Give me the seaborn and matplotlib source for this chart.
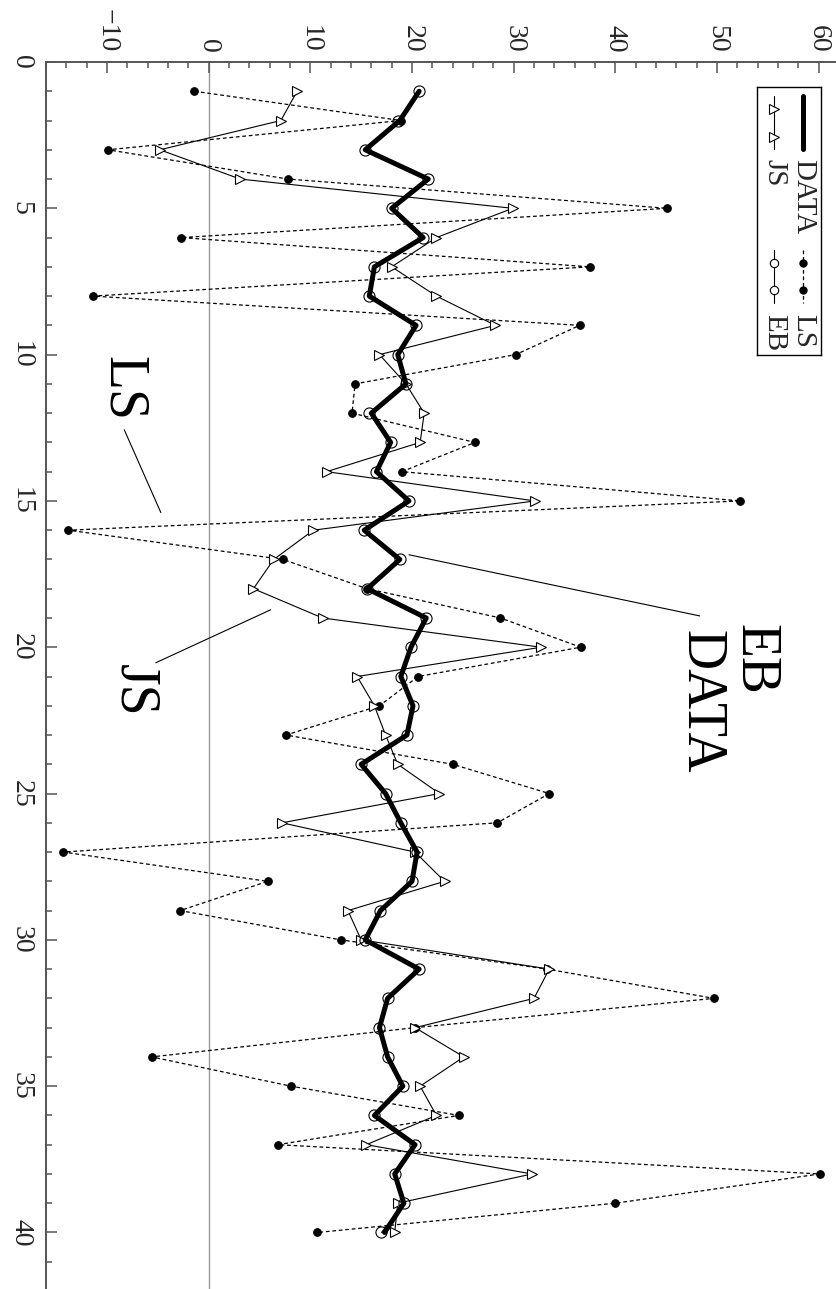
import numpy as np
import matplotlib
matplotlib.use('Agg')
import matplotlib.pyplot as plt
import seaborn as sns

idx  = list(range(1, 41))
data = [20.7, 18.8, 15.4, 21.6, 18.0, 21.1, 16.3, 15.8, 20.4, 18.6,
        19.4, 16.0, 17.9, 16.5, 19.7, 15.3, 18.8, 15.6, 21.4, 19.9,
        18.9, 20.1, 19.5, 15.0, 17.4, 18.9, 20.5, 20.0, 16.9, 15.4,
        20.7, 17.6, 16.8, 17.6, 19.1, 16.3, 20.3, 18.3, 19.2, 17.3]
eb   = [20.7, 18.6, 15.4, 21.6, 18.0, 21.1, 16.3, 15.8, 20.4, 18.6,
        19.4, 15.8, 17.9, 16.5, 19.7, 15.3, 18.8, 15.6, 21.4, 19.9,
        18.9, 20.1, 19.5, 15.0, 17.4, 18.9, 20.5, 20.0, 16.9, 15.4,
        20.7, 17.6, 16.8, 17.6, 19.1, 16.3, 20.3, 18.3, 19.2, 17.0]
js   = [8.7, 7.1, -4.8, 3.1, 29.9, 22.4, 18.0, 22.4, 28.2, 16.8,
        19.4, 21.2, 20.8, 11.6, 32.1, 10.3, 6.4, 4.4, 11.2, 32.7,
        14.6, 16.3, 17.4, 18.6, 22.7, 7.2, 20.3, 23.2, 13.7, 15.0,
        33.5, 32.0, 20.3, 25.1, 20.8, 22.4, 15.5, 31.8, 18.6, 18.3]
ls   = [-1.4, 18.9, -9.9, 7.8, 45.1, -2.7, 37.5, -11.4, 36.5, 30.2,
        14.4, 14.1, 26.2, 19.0, 52.3, -13.8, 7.3, 15.6, 28.7, 36.6,
        20.6, 16.8, 7.6, 24.0, 33.5, 28.4, -14.3, 5.8, -2.8, 13.0,
        33.3, 49.7, 20.3, -5.6, 8.1, 24.6, 6.8, 60.1, 40.0, 10.7]
val_ticks = [-10, 0, 10, 20, 30, 40, 50, 60]
idx_ticks = [0, 5, 10, 15, 20, 25, 30, 35, 40]

sns.set_style('white')
plt.rcParams['font.family'] = ['Liberation Serif', 'DejaVu Serif']

fig = plt.figure(figsize=(8.36, 12.89), dpi=100)
# axes runs a bit past the right/bottom edge, like the reference page
ax = fig.add_axes([46/836, -2/1289, 793/836, 1229/1289])

ax.axvline(0, color='#9a9a9a', lw=1.0, zorder=0)

sns.lineplot(x=ls, y=idx, orient='y', sort=False, estimator=None, ax=ax,
             color='black', lw=0.9, linestyle=(0, (3, 2.2)),
             marker='o', markersize=5.5, markerfacecolor='black', markeredgecolor='black', zorder=2)
sns.lineplot(x=js, y=idx, orient='y', sort=False, estimator=None, ax=ax,
             color='black', lw=0.8, marker='>', markersize=7,
             markerfacecolor='white', markeredgecolor='black', markeredgewidth=0.8, zorder=3)
sns.lineplot(x=eb, y=idx, orient='y', sort=False, estimator=None, ax=ax,
             color='black', lw=0.8, marker='o', markersize=8,
             markerfacecolor='none', markeredgecolor='black', markeredgewidth=0.8, zorder=4)
sns.lineplot(x=data, y=idx, orient='y', sort=False, estimator=None, ax=ax,
             color='black', lw=3.6, zorder=5)

ax.set_xlim(-16, 62)
ax.set_ylim(42, 0)
ax.set_xlabel(''); ax.set_ylabel('')
ax.set_xticks(val_ticks)
ax.set_xticks(np.arange(-16, 63, 2), minor=True)
ax.set_xticklabels([str(v).replace('-', '\u2212') for v in val_ticks])
ax.set_yticks(idx_ticks)
ax.set_yticks(np.arange(0, 43, 1), minor=True)
ax.set_yticklabels([str(v) for v in idx_ticks])
ax.xaxis.tick_top()
ax.tick_params(axis='x', which='both', direction='in', top=True, bottom=False,
               labeltop=True, labelbottom=False, labelrotation=270, pad=7,
               labelsize=20, color='#555555', width=1.1)
ax.tick_params(axis='y', which='both', direction='in', left=True, right=False,
               labelrotation=270, pad=9, labelsize=20, color='#555555', width=1.1)
ax.tick_params(which='major', length=8)
ax.tick_params(which='minor', length=4.5)
for t in ax.get_yticklabels():
    t.set_va('center')
for s in ['right', 'bottom']:
    ax.spines[s].set_visible(False)
for s in ['top', 'left']:
    ax.spines[s].set_color('#555555')
    ax.spines[s].set_linewidth(1.4)

# labels drawn on the plot, with pointer lines
big = dict(rotation=270, ha='center', va='center', fontsize=40, color='black')
ax.text(53.67, 20.41, 'EB', **big)
ax.text(48.4, 21.87, 'DATA', **big)
ax.text(-8.4, 11.17, 'LS', **big)
ax.text(-7.35, 21.46, 'JS', **big)
ax.plot([19.7, 48.3], [16.84, 18.93], color='black', lw=0.8)
ax.plot([-8.3, -4.7], [12.57, 15.4], color='black', lw=0.8)
ax.plot([-5.2, 6.1], [20.53, 18.72], color='black', lw=0.8)

# legend box (rotated like the rest of the page)
lax = fig.add_axes([757/836, 1-355/1289, 64/836, 268/1289])
lax.set_xlim(0, 64); lax.set_ylim(268, 0)
lax.set_xticks([]); lax.set_yticks([])
lax.set_facecolor('white')
for s in lax.spines.values():
    s.set_color('black'); s.set_linewidth(1.0)
lax.plot([46, 46], [9, 62], color='black', lw=3.6)
lax.plot([46, 46], [163, 216], color='black', lw=0.9, linestyle=(0, (3, 2.2)))
lax.plot([46, 46], [176, 203], 'o', color='black', markersize=5)
lax.plot([17, 17], [9, 62], color='black', lw=0.8)
lax.plot([17, 17], [22, 50], '>', markerfacecolor='white', markeredgecolor='black',
         markersize=6.5, markeredgewidth=0.8)
lax.plot([17, 17], [163, 216], color='black', lw=0.8)
lax.plot([17, 17], [176, 203], 'o', markerfacecolor='white', markeredgecolor='black',
         markersize=6, markeredgewidth=0.8)
lab = dict(rotation=270, ha='center', va='top', fontsize=21)
lax.text(46, 72, 'DATA', **lab)
lax.text(46, 227, 'LS', **lab)
lax.text(17, 72, 'JS', **lab)
lax.text(17, 227, 'EB', **lab)

fig.savefig('out.png', dpi=100)
